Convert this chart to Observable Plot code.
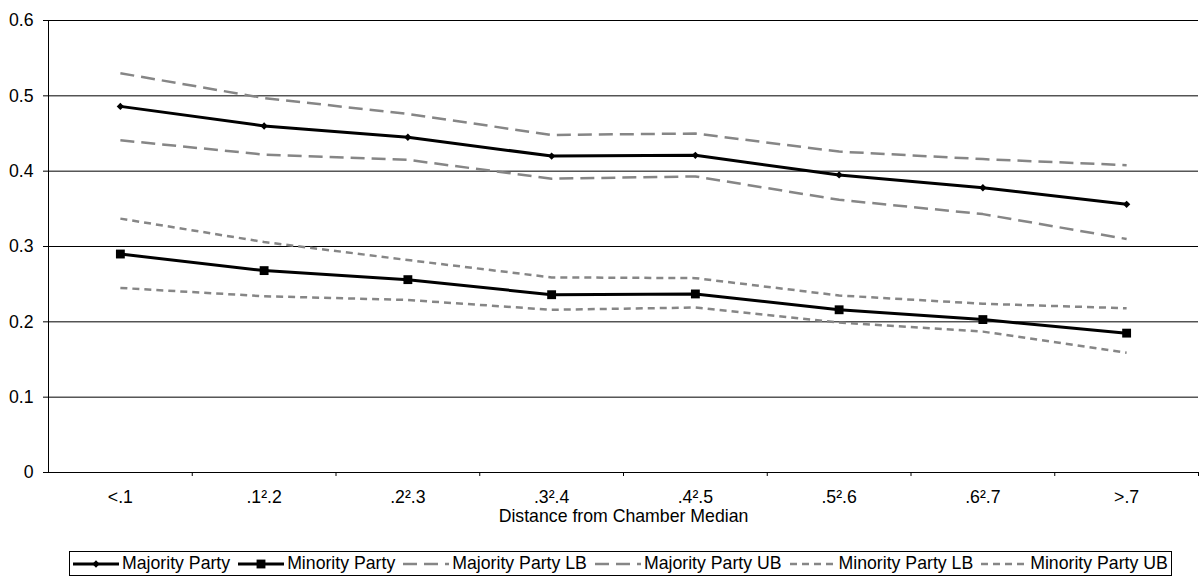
<!DOCTYPE html>
<html>
<head>
<meta charset="utf-8">
<script src="https://cdn.jsdelivr.net/npm/d3@7"></script>
<script src="https://cdn.jsdelivr.net/npm/@observablehq/plot@0.6"></script>
<style>
  html, body { margin: 0; padding: 0; background: #fff; }
  body { width: 1201px; height: 578px; position: relative; overflow: hidden; font-family: "Liberation Sans", Arial, sans-serif; }
  #legend { position: absolute; left: 69px; top: 551px; width: 1103px; height: 25px; box-sizing: border-box; border: 1px solid #000; display: flex; align-items: center; padding-left: 3px; font-size: 17.7px; color: #000; white-space: nowrap; }
  .item { display: flex; align-items: center; margin-right: 8px; }
  .item svg { margin-right: 3px; display: block; }
</style>
</head>
<body>
<div id="chart"></div>
<div id="legend"></div>
<script>
// ---- data ----
const categories = ["<.1", ".1\u00b2.2", ".2\u00b2.3", ".3\u00b2.4", ".4\u00b2.5", ".5\u00b2.6", ".6\u00b2.7", ">.7"];
const majorityParty   = [0.486, 0.460, 0.445, 0.420, 0.421, 0.395, 0.378, 0.356];
const minorityParty   = [0.290, 0.268, 0.256, 0.236, 0.237, 0.216, 0.203, 0.185];
const majorityPartyLB = [0.441, 0.422, 0.415, 0.390, 0.393, 0.362, 0.343, 0.310];
const majorityPartyUB = [0.530, 0.497, 0.476, 0.448, 0.450, 0.426, 0.416, 0.408];
const minorityPartyLB = [0.245, 0.234, 0.229, 0.216, 0.219, 0.199, 0.187, 0.159];
const minorityPartyUB = [0.337, 0.306, 0.282, 0.259, 0.258, 0.235, 0.224, 0.218];
const yTicks = [0, 0.1, 0.2, 0.3, 0.4, 0.5, 0.6];
const yTickLabels = ["0", "0.1", "0.2", "0.3", "0.4", "0.5", "0.6"];
const xTitle = "Distance from Chamber Median";
const seriesNames = ["Majority Party", "Minority Party", "Majority Party LB", "Majority Party UB", "Minority Party LB", "Minority Party UB"];

// ---- build table ----
const idx = categories.map((c, i) => i);
const rows = (vals) => vals.map((v, i) => ({i, v}));
const boundaries = idx.map(i => i + 0.5);
const xDomain = [-0.5, categories.length - 0.5];

const GRAY = "#868686";
const styles = {
  "Majority Party":    {stroke: "#000", width: 3, dash: null, symbol: "diamond2", r: 3.3},
  "Minority Party":    {stroke: "#000", width: 3, dash: null, symbol: "square", r: 5},
  "Majority Party LB": {stroke: GRAY, width: 2.5, dash: "14,7"},
  "Majority Party UB": {stroke: GRAY, width: 2.5, dash: "14,7"},
  "Minority Party LB": {stroke: GRAY, width: 2.5, dash: "7,5"},
  "Minority Party UB": {stroke: GRAY, width: 2.5, dash: "7,5"}
};
const seriesData = {
  "Majority Party": majorityParty,
  "Minority Party": minorityParty,
  "Majority Party LB": majorityPartyLB,
  "Majority Party UB": majorityPartyUB,
  "Minority Party LB": minorityPartyLB,
  "Minority Party UB": minorityPartyUB
};

const marks = [];
// gridlines
marks.push(Plot.ruleY(yTicks.filter(t => t > 0), {stroke: "#000", strokeWidth: 1}));
// dashed bounds first, then solid
for (const name of ["Majority Party LB", "Majority Party UB", "Minority Party LB", "Minority Party UB"]) {
  const s = styles[name];
  marks.push(Plot.line(rows(seriesData[name]), {x: "i", y: "v", stroke: s.stroke, strokeWidth: s.width, strokeDasharray: s.dash, strokeLinecap: "butt"}));
}
for (const name of ["Majority Party", "Minority Party"]) {
  const s = styles[name];
  marks.push(Plot.line(rows(seriesData[name]), {x: "i", y: "v", stroke: s.stroke, strokeWidth: s.width}));
  marks.push(Plot.dot(rows(seriesData[name]), {x: "i", y: "v", symbol: s.symbol, r: s.r, fill: "#000", stroke: "none"}));
}
// axes lines
marks.push(Plot.ruleX([xDomain[0]], {stroke: "#000", strokeWidth: 1}));
marks.push(Plot.ruleY([0], {stroke: "#000", strokeWidth: 1}));
// category labels
marks.push(Plot.text(idx, {x: d => d, y: () => 0, text: d => categories[d], dy: 25, fill: "#000", lineAnchor: "middle"}));
// x title
marks.push(Plot.text([xTitle], {frameAnchor: "bottom", dy: 44, fill: "#000", lineAnchor: "middle"}));

const chart = Plot.plot({
  width: 1201,
  height: 545,
  marginLeft: 48,
  marginRight: 3,
  marginTop: 20,
  marginBottom: 73,
  style: {fontFamily: "'Liberation Sans', Arial, sans-serif", fontSize: "17.7px", color: "#000", background: "#fff", overflow: "visible"},
  x: {type: "linear", domain: xDomain, ticks: boundaries, tickFormat: () => "", tickSize: 4, label: null},
  y: {domain: [0, 0.6], ticks: yTicks, tickFormat: d => yTickLabels[yTicks.indexOf(d)] ?? d3.format(".1f")(d), tickSize: 5, tickPadding: 10, label: null},
  marks
});
document.getElementById("chart").appendChild(chart);

// ---- legend ----
const legend = d3.select("#legend");
for (const name of seriesNames) {
  const s = styles[name];
  const item = legend.append("div").attr("class", "item");
  const sw = item.append("svg").attr("width", 46).attr("height", 12);
  sw.append("line").attr("x1", 0).attr("x2", 46).attr("y1", 6).attr("y2", 6)
    .attr("stroke", s.stroke).attr("stroke-width", s.width)
    .attr("stroke-dasharray", s.dash);
  if (s.symbol) {
    const sym = s.symbol === "square" ? d3.symbolSquare : d3.symbolDiamond2;
    sw.append("path").attr("transform", "translate(23,6)")
      .attr("d", d3.symbol(sym, Math.PI * s.r * s.r)()).attr("fill", "#000");
  }
  item.append("span").text(name);
}
</script>
</body>
</html>
